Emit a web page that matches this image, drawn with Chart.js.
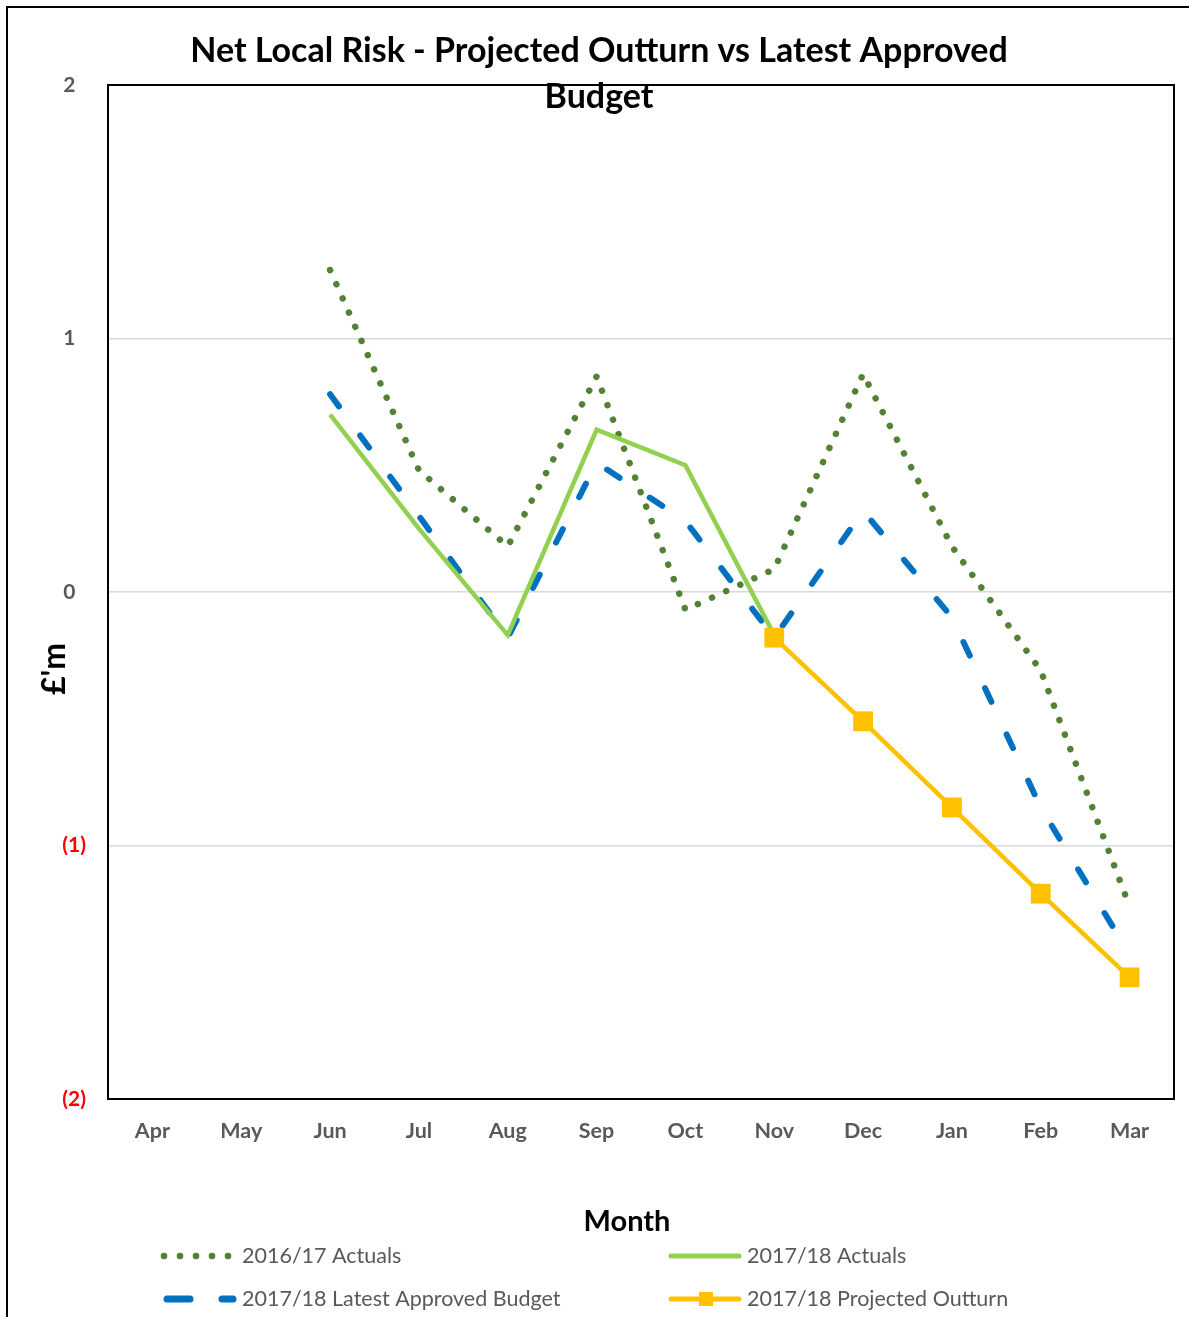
<!DOCTYPE html>
<html>
<head>
<meta charset="utf-8">
<title>Net Local Risk - Projected Outturn vs Latest Approved Budget</title>
<script src="https://cdn.jsdelivr.net/npm/chart.js@4.4.1/dist/chart.umd.min.js"></script>
<style>
  html, body { margin: 0; padding: 0; background: #fff; }
  #wrap { position: relative; width: 1189px; height: 1317px; overflow: hidden; }
  #frame { position: absolute; left: 6px; top: 6px; width: 1200px; height: 1400px;
           border-left: 2px solid #000; border-top: 2px solid #000; }
  canvas { position: absolute; left: 0; top: 0; }
</style>
</head>
<body>
<div id="wrap">
  <div id="frame"></div>
  <canvas id="chart" width="1189" height="1317"></canvas>
</div>
<script>
// Months of the financial year
const months = ['Apr', 'May', 'Jun', 'Jul', 'Aug', 'Sep', 'Oct', 'Nov', 'Dec', 'Jan', 'Feb', 'Mar'];

// Net local risk, £m
const actuals1617 = [null, null, 1.27, 0.48, 0.18, 0.85, -0.07, 0.09, 0.86, 0.18, -0.31, -1.24];
const budget1718  = [null, null, 0.78, 0.30, -0.18, 0.51, 0.28, -0.18, 0.32, -0.10, -0.85, -1.43];
const actuals1718 = [null, null, 0.70, 0.25, -0.17, 0.64, 0.50, -0.17, null, null, null, null];
const outturn1718 = [null, null, null, null, null, null, null, -0.18, -0.51, -0.85, -1.19, -1.52];

// Value axis ticks
const yTicks = [-2, -1, 0, 1, 2];

const titleLines = ['Net Local Risk - Projected Outturn vs Latest Approved', 'Budget'];
const yTitle = "£'m";
const xTitle = 'Month';
const legendLabels = ['2016/17 Actuals', '2017/18 Actuals', '2017/18 Latest Approved Budget', '2017/18 Projected Outturn'];

const GREEN_DOT = '#548235', BLUE = '#0070C0', GREEN = '#92D050', GOLD = '#FFC000';
const FONT = 'Lato, "Open Sans", sans-serif';

// Frame, titles and two-column legend drawn on top of the chart
const decor = {
  id: 'decor',
  afterDraw(chart) {
    const { ctx, chartArea: a } = chart;
    ctx.save();
    // plot frame
    ctx.strokeStyle = '#000';
    ctx.lineWidth = 2;
    ctx.strokeRect(a.left, a.top, a.right - a.left, a.bottom - a.top);

    // main title
    ctx.fillStyle = '#000';
    ctx.textAlign = 'center';
    ctx.textBaseline = 'middle';
    ctx.font = 'bold 34px ' + FONT;
    ctx.fillText(titleLines[0], 599, 51);
    ctx.fillText(titleLines[1], 599, 97);

    // axis titles
    ctx.font = 'bold 29px ' + FONT;
    ctx.fillText(xTitle, 627, 1222);
    ctx.save();
    ctx.translate(55, 669);
    ctx.rotate(-Math.PI / 2);
    ctx.font = 'bold 32px ' + FONT;
    ctx.fillText(yTitle, 0, 0);
    ctx.restore();

    // legend
    const row1 = 1256, row2 = 1299;
    ctx.lineCap = 'round';
    // dotted
    ctx.fillStyle = GREEN_DOT;
    [164, 180, 196, 212, 228].forEach(x => {
      ctx.beginPath(); ctx.arc(x, row1, 3.3, 0, Math.PI * 2); ctx.fill();
    });
    // dashed
    ctx.strokeStyle = BLUE; ctx.lineWidth = 7;
    ctx.beginPath(); ctx.moveTo(167, row2); ctx.lineTo(190, row2);
    ctx.moveTo(222, row2); ctx.lineTo(233, row2); ctx.stroke();
    // solid green
    ctx.strokeStyle = GREEN; ctx.lineWidth = 5;
    ctx.beginPath(); ctx.moveTo(671, row1); ctx.lineTo(739, row1); ctx.stroke();
    // gold with square
    ctx.strokeStyle = GOLD;
    ctx.beginPath(); ctx.moveTo(671, row2); ctx.lineTo(739, row2); ctx.stroke();
    ctx.fillStyle = GOLD;
    ctx.fillRect(699, row2 - 7, 14, 14);

    ctx.fillStyle = '#595959';
    ctx.textAlign = 'left';
    ctx.font = '21.5px ' + FONT;
    ctx.fillText(legendLabels[0], 242, row1);
    ctx.fillText(legendLabels[1], 747, row1);
    ctx.fillText(legendLabels[2], 242, row2);
    ctx.fillText(legendLabels[3], 747, row2);
    ctx.restore();
  }
};

new Chart(document.getElementById('chart'), {
  type: 'line',
  data: {
    labels: months,
    datasets: [
      {
        label: legendLabels[3], data: outturn1718, order: 0,
        borderColor: GOLD, backgroundColor: GOLD, borderWidth: 4.5,
        pointStyle: 'rect', pointRadius: 14, pointBorderWidth: 0,
        pointBackgroundColor: GOLD, tension: 0
      },
      {
        label: legendLabels[1], data: actuals1718, order: 1,
        borderColor: GREEN, borderWidth: 4.5, pointRadius: 0, tension: 0
      },
      {
        label: legendLabels[2], data: budget1718, order: 2,
        borderColor: BLUE, borderWidth: 6, borderDash: [15, 36],
        borderCapStyle: 'round', borderJoinStyle: 'round', pointRadius: 0, tension: 0
      },
      {
        label: legendLabels[0], data: actuals1617, order: 3,
        borderColor: GREEN_DOT, borderWidth: 6.5, borderDash: [0.01, 15.5],
        borderCapStyle: 'round', borderJoinStyle: 'round', pointRadius: 0, tension: 0
      }
    ]
  },
  options: {
    responsive: false,
    devicePixelRatio: 1,
    animation: false,
    layout: { padding: { top: 85, right: 15, bottom: 0, left: 0 } },
    plugins: { legend: { display: false }, title: { display: false }, tooltip: { enabled: false } },
    scales: {
      x: {
        offset: true,
        grid: { display: false, drawTicks: false },
        border: { display: false },
        ticks: { padding: 19, color: '#595959', font: { family: FONT, size: 21.5, weight: 'bold' }, maxRotation: 0 },
        afterFit(s) { s.height = 218; }
      },
      y: {
        min: -2, max: 2,
        afterBuildTicks(s) { s.ticks = yTicks.map(v => ({ value: v })); },
        grid: { color: '#D9D9D9', lineWidth: 1.5, drawTicks: false },
        border: { display: false },
        ticks: {
          padding: 22,
          font: { family: FONT, size: 21, weight: 'bold' },
          color: c => (c.tick && c.tick.value < 0) ? '#FF0000' : '#595959',
          callback: v => v < 0 ? '(' + Math.abs(v) + ')' : v + '\u2002'
        },
        afterFit(s) { s.width = 108; }
      }
    }
  },
  plugins: [decor]
});
</script>
</body>
</html>
